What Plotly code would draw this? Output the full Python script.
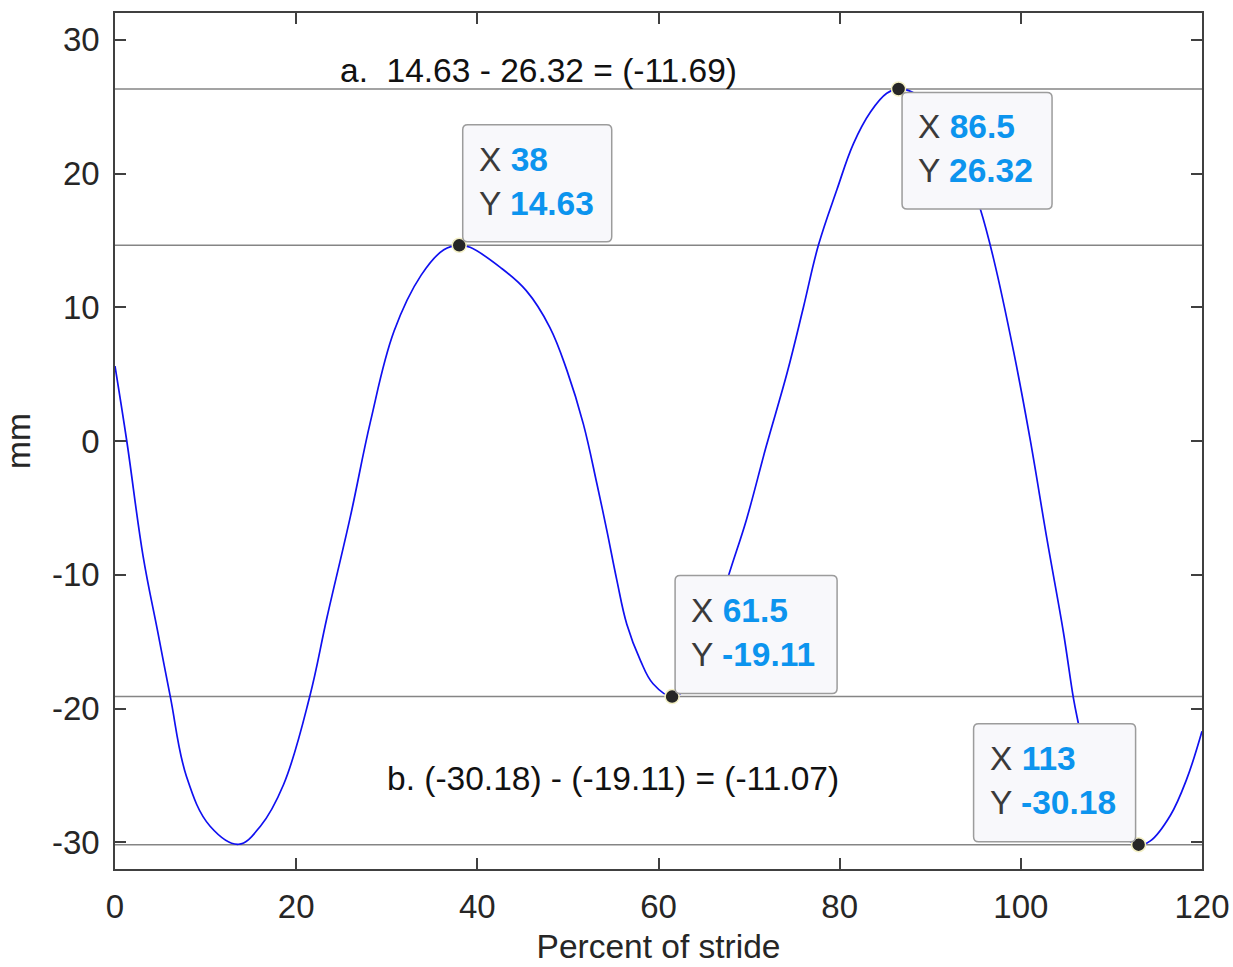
import plotly.graph_objects as go

# ---- data ----
x_pct = [0, 1.3, 3.1, 4.7, 6.1, 7.9, 10.5, 13.65, 16.05, 18.6, 21.5, 23.4, 26.0, 28.2,
         30.8, 33.8, 36.3, 38.0, 39.2, 42.5, 45.4, 48.0, 49.9, 51.7, 53.2, 54.3, 55.4,
         56.5, 58.0, 59.4, 61.5, 63.0, 64.5, 66.0, 67.7, 69.7, 71.9, 74.2, 76.0, 77.65,
         79.7, 81.5, 83.4, 85.2, 86.5, 88.0, 89.5, 91.0, 92.5, 94.0, 95.5, 97.0, 99.2,
         101.0, 102.9, 104.7, 105.8, 106.35, 107.6, 110.2, 113.0, 114.3, 116.5, 118.3, 120.0]
y_mm = [5.6, 0.0, -8.6, -14.2, -19.1, -25.1, -28.8, -30.15, -28.8, -25.7, -19.1, -13.2, -5.6, 1.45,
        8.2, 12.4, 14.3, 14.63, 14.48, 13.0, 11.24, 8.5, 5.26, 1.28, -3.2, -6.7, -10.4,
        -13.7, -16.4, -18.15, -19.11, -18.5, -16.8, -14.2, -10.14, -5.9, -0.38, 5.1, 10.0, 14.63,
        18.8, 22.2, 24.6, 26.0, 26.32, 26.1, 25.4, 24.2, 22.5, 20.2, 17.4, 13.6, 6.7,
        0.23, -7.4, -14.3, -19.2, -21.1, -25.0, -28.8, -30.18, -29.9, -28.0, -25.3, -21.7]

tip_x = [38, 61.5, 86.5, 113]
tip_y = [14.63, -19.11, 26.32, -30.18]
ref_levels = [26.32, 14.63, -19.11, -30.18]

x_ticks = [0, 20, 40, 60, 80, 100, 120]
y_ticks = [-30, -20, -10, 0, 10, 20, 30]
y_tick_text = ["-30", "-20", "-10", "0", "10", "20", "30"]

diff_labels = ["a.\u00a0 14.63 - 26.32 = (-11.69)", "b. (-30.18) - (-19.11) = (-11.07)"]
diff_x = [46.8, 55.0]
diff_y = [27.7, -25.2]

FONT = "Liberation Sans, Arial, Helvetica, sans-serif"
TXT = "#262626"
AX = "#404040"
BLUE_VAL = "#0c94ee"

fig = go.Figure()

# main curve
fig.add_trace(go.Scatter(x=x_pct, y=y_mm, mode="lines",
                         line=dict(color="#1010f0", width=1.7, shape="spline", smoothing=1.1),
                         hoverinfo="skip", showlegend=False))

# datatip markers
fig.add_trace(go.Scatter(x=tip_x, y=tip_y, mode="markers",
                         marker=dict(color="#262626", size=14,
                                     line=dict(color="#f3efc4", width=1.5)),
                         hoverinfo="skip", showlegend=False))

shapes = []
# horizontal reference lines
for lv in ref_levels:
    shapes.append(dict(type="line", xref="x", yref="y", x0=0, x1=120, y0=lv, y1=lv,
                       line=dict(color="#858585", width=1.5), layer="below"))


def rrect(x0, y0, x1, y1, r=5):
    return (f"M{x0 + r},{y0} L{x1 - r},{y0} Q{x1},{y0} {x1},{y0 + r} "
            f"L{x1},{y1 - r} Q{x1},{y1} {x1 - r},{y1} L{x0 + r},{y1} "
            f"Q{x0},{y1} {x0},{y1 - r} L{x0},{y0 + r} Q{x0},{y0} {x0 + r},{y0} Z")


# box geometry (pixel offsets from the tipped point; y up-positive)
boxes = [(3.5, 3.5, 152.5, 120.5),
         (3.0, 3.0, 165.0, 121.0),
         (3.5, -120.0, 153.5, -3.5),
         (-165.0, 3.0, -3.0, 121.0)]

annotations = []
for i in range(len(tip_x)):
    bx0, by0, bx1, by1 = boxes[i]
    shapes.append(dict(type="path", xref="x", yref="y",
                       xsizemode="pixel", ysizemode="pixel",
                       xanchor=tip_x[i], yanchor=tip_y[i],
                       path=rrect(bx0, by0, bx1, by1),
                       fillcolor="#f8f8fb", line=dict(color="#9c9c9c", width=1.5),
                       layer="above"))
    xv = f"{tip_x[i]:g}"
    yv = f"{tip_y[i]:.2f}"
    txt = (f"X <b><span style='color:{BLUE_VAL}'>{xv}</span></b><br>"
           f"Y <b><span style='color:{BLUE_VAL}'>{yv}</span></b>")
    annotations.append(dict(x=tip_x[i], y=tip_y[i], xref="x", yref="y", text=txt,
                            showarrow=False, xanchor="left", yanchor="middle", align="left",
                            xshift=bx0 + 14, yshift=(by0 + by1) / 2 + 2,
                            font=dict(family=FONT, size=33.5, color="#3a3a3a")))

for lab, ax_, ay_ in zip(diff_labels, diff_x, diff_y):
    annotations.append(dict(x=ax_, y=ay_, xref="x", yref="y", text=lab, showarrow=False,
                            xanchor="center", yanchor="middle",
                            font=dict(family=FONT, size=33.5, color="#111111")))

axis_common = dict(showline=True, linecolor=AX, linewidth=1.5, mirror="ticks",
                   ticks="inside", ticklen=11, tickwidth=1.5, tickcolor=AX,
                   showgrid=False, zeroline=False, automargin=False,
                   ticklabeloverflow="allow",
                   tickfont=dict(family=FONT, size=33, color=TXT))

fig.update_layout(
    width=1233, height=967,
    margin=dict(l=115, r=31, t=13, b=98, pad=0),
    paper_bgcolor="white", plot_bgcolor="white",
    font=dict(family=FONT, color=TXT),
    xaxis=dict(range=[0, 120], tickvals=x_ticks, ticklabelstandoff=8,
               title=dict(text="Percent of stride", font=dict(family=FONT, size=33.5, color=TXT),
                          standoff=10),
               **axis_common),
    yaxis=dict(range=[-32, 32], tickvals=y_ticks, ticktext=y_tick_text, ticklabelstandoff=7,
               title=dict(text="mm", font=dict(family=FONT, size=33.5, color=TXT), standoff=16),
               **axis_common),
    shapes=shapes,
    annotations=annotations,
    showlegend=False,
)

# remove the default page margin so the figure fills the window exactly
fig.write_html("out.html",
               config={"displayModeBar": False},
               post_script="document.body.style.margin='0';"
                           "document.documentElement.style.overflow='hidden';")
